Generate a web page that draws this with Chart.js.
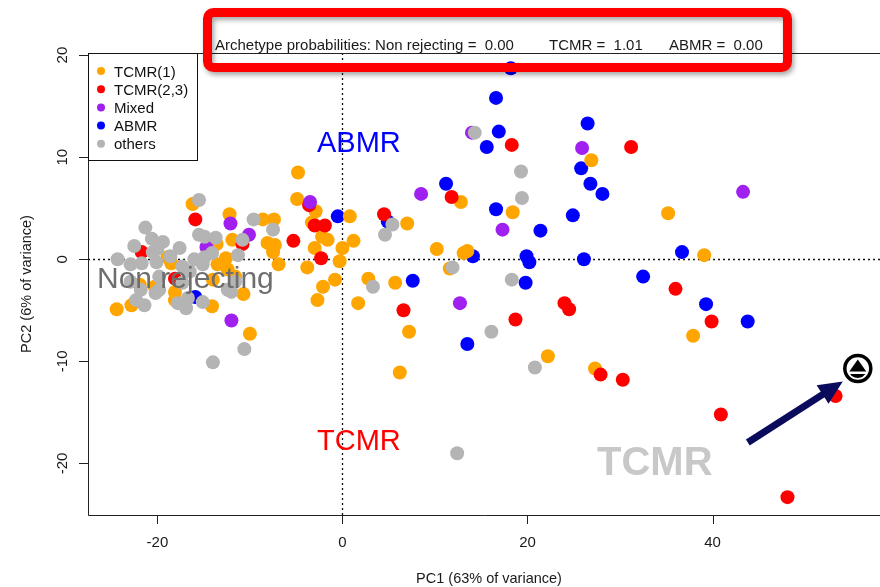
<!DOCTYPE html>
<html lang="en">
<head>
<meta charset="UTF-8">
<title>Archetype PCA</title>
<style>
  body { margin: 0; background: #fff; }
  #wrap { width: 880px; height: 587px; }
</style>
<script src="https://cdn.jsdelivr.net/npm/chart.js"></script>
</head>
<body>
<div id="wrap"><canvas id="pca" width="880" height="587"></canvas></div>
<script>
// axis setup
const xTicks = [-20, 0, 20, 40];
const yTicks = [-20, -10, 0, 10, 20];
const xRange = [-27.5, 58.1];
const yRange = [-25.05, 20.2];

// biopsies in PC space, by group
const tcmr1 = [[26.9,9.7],[12.8,5.6],[18.4,4.6],[35.2,4.5],[39.1,0.4],[13.1,0.6],[13.5,0.8],[10.2,1.0],[11.6,-0.9],[22.2,-9.5],
  [27.3,-10.7],[37.9,-7.5],[7.0,3.5],[2.8,-1.9],[5.7,-2.3],[1.7,-4.3],[7.2,-7.1],[6.2,-11.1],[0.8,4.2],[1.2,1.8],
  [0.0,1.1],[-0.3,-0.2],[-4.8,8.5],[-4.9,5.9],[-2.9,4.7],[-3.3,3.6],[-2.2,2.2],[-1.6,1.9],[-3.0,1.1],[-3.8,-0.8],
  [-2.1,-2.7],[-0.8,-2.0],[-6.9,-0.5],[-7.4,3.9],[-8.6,3.9],[-8.1,1.6],[-7.3,1.4],[-7.5,0.7],[-11.9,1.9],[-12.2,4.4],
  [-16.2,5.4],[-13.6,1.5],[-12.6,0.1],[-18.9,0.2],[-18.5,-0.4],[-10.7,-3.4],[-2.7,-4.0],[-24.4,-4.9],[-22.8,-4.5],[-18.1,-4.0],
  [-14.1,-4.6],[-10.0,-7.3],[-21.9,-2.5],[-20.3,-2.7],[-18.1,-3.2],[-14.0,-2.0],[-13.5,-0.5],[-12.4,-1.0],[-11.6,-1.7]];
const tcmr23 = [[18.3,11.2],[31.2,11.0],[11.8,6.1],[36.0,-2.9],[24.0,-4.3],[24.5,-4.9],[18.7,-5.9],[27.9,-11.3],[30.3,-11.8],[39.9,-6.1],
  [40.9,-15.2],[48.1,-23.3],[53.3,-13.4],[6.6,-5.0],[4.5,4.4],[-3.6,5.3],[-3.0,3.3],[-1.9,3.3],[-5.3,1.8],[-2.3,0.1],
  [-15.9,3.9],[-21.7,0.7],[-10.8,1.5],[-18.1,-1.9]];
const mixed = [[14.0,12.4],[25.9,10.9],[43.3,6.6],[17.3,2.9],[12.7,-4.3],[8.5,6.4],[-3.5,5.6],[-12.1,3.5],[-10.1,2.4],[-14.7,1.2],[-12.0,-6.0]];
const abmr = [[18.2,18.7],[16.6,15.8],[16.9,12.5],[15.6,11.0],[26.5,13.3],[25.8,8.9],[26.8,7.4],[28.1,6.4],[11.2,7.4],[16.6,4.9],
  [24.9,4.3],[21.4,2.8],[19.9,0.3],[20.2,-0.3],[14.1,0.3],[26.1,0.0],[19.8,-2.3],[36.7,0.7],[32.5,-1.7],[39.3,-4.4],
  [43.8,-6.1],[13.5,-8.3],[7.6,-2.1],[4.9,3.7],[-0.5,4.2],[-15.9,-3.7]];
const others = [[14.3,12.4],[19.3,8.6],[19.4,6.0],[11.9,-0.8],[18.3,-2.0],[16.1,-7.1],[20.8,-10.6],[12.4,-19.0],[5.4,3.4],[4.6,2.4],
  [3.3,-2.7],[-15.5,5.8],[-21.3,3.1],[-20.6,2.0],[-19.4,1.7],[-22.5,1.3],[-17.6,1.1],[-15.5,2.4],[-14.9,2.2],[-13.7,2.1],
  [-10.8,1.9],[-9.6,3.9],[-7.5,2.9],[-11.3,0.4],[-14.1,0.6],[-20.1,-0.3],[-21.7,-0.4],[-24.3,0.0],[-20.0,1.0],[-20.5,0.7],
  [-18.6,0.3],[-16.0,0.0],[-14.9,0.2],[-15.1,-0.5],[-17.3,-0.7],[-16.5,-1.2],[-22.9,-2.2],[-21.8,-3.0],[-19.8,-3.0],[-17.3,-2.3],
  [-19.8,-1.7],[-16.7,-3.8],[-15.1,-4.2],[-12.4,-3.0],[-11.6,-2.2],[-22.3,-4.0],[-21.4,-4.5],[-17.8,-4.3],[-16.9,-4.8],[-20.2,-3.3],
  [-10.6,-8.8],[-14.0,-10.1],[-12.0,-3.2],[-22.9,-0.5]];

// the new biopsy being classified
const target = [55.7, -10.7];

const groupNames = ['TCMR(1)', 'TCMR(2,3)', 'Mixed', 'ABMR', 'others'];
const groupColors = ['#FFA500', '#FF0000', '#A020F0', '#0000FF', '#B4B4B4'];
const groupData = [tcmr1, tcmr23, mixed, abmr, others];
const drawOrder = [3, 2, 1, 4, 0]; // higher = further back

const FONT = '"Liberation Sans", Arial, sans-serif';

const annotate = {
  id: 'annotate',
  beforeDatasetsDraw(chart) {
    const { ctx, chartArea: a, scales: { x, y } } = chart;
    const x0 = Math.round(x.getPixelForValue(0)) + 0.5;
    const y0 = Math.round(y.getPixelForValue(0)) + 0.5;
    ctx.save();
    ctx.strokeStyle = '#111';
    ctx.lineWidth = 1.3;
    ctx.setLineDash([2, 3]);
    ctx.beginPath();
    ctx.moveTo(x0, a.top); ctx.lineTo(x0, a.bottom);
    ctx.moveTo(a.left, y0); ctx.lineTo(a.right, y0);
    ctx.stroke();
    ctx.restore();
  },
  afterDatasetsDraw(chart) {
    const { ctx, chartArea: a, scales: { x, y } } = chart;
    ctx.save();

    // box + ticks
    ctx.strokeStyle = '#222';
    ctx.lineWidth = 1;
    ctx.beginPath();
    ctx.moveTo(a.right + 1, a.top + 0.5); ctx.lineTo(a.left + 0.5, a.top + 0.5);
    ctx.lineTo(a.left + 0.5, a.bottom + 0.5); ctx.lineTo(a.right + 1, a.bottom + 0.5);
    xTicks.forEach(v => {
      const px = Math.round(x.getPixelForValue(v)) + 0.5;
      ctx.moveTo(px, a.bottom); ctx.lineTo(px, a.bottom + 9);
    });
    yTicks.forEach(v => {
      const py = Math.round(y.getPixelForValue(v)) + 0.5;
      ctx.moveTo(a.left, py); ctx.lineTo(a.left - 9, py);
    });
    ctx.stroke();

    // tick labels
    ctx.fillStyle = '#1a1a1a';
    ctx.font = '15px ' + FONT;
    ctx.textAlign = 'center';
    ctx.textBaseline = 'alphabetic';
    xTicks.forEach(v => ctx.fillText(String(v), x.getPixelForValue(v), 547));
    yTicks.forEach(v => {
      ctx.save();
      ctx.translate(67, y.getPixelForValue(v));
      ctx.rotate(-Math.PI / 2);
      ctx.fillText(String(v), 0, 0);
      ctx.restore();
    });

    // axis titles
    ctx.font = '14.5px ' + FONT;
    ctx.fillText('PC1 (63% of variance)', 489, 583);
    ctx.save();
    ctx.translate(31, (a.top + a.bottom) / 2);
    ctx.rotate(-Math.PI / 2);
    ctx.fillText('PC2 (6% of variance)', 0, 0);
    ctx.restore();

    // legend
    ctx.strokeStyle = '#111';
    ctx.strokeRect(a.left + 0.5, a.top + 0.5, 109, 107);
    ctx.font = '15px ' + FONT;
    ctx.textAlign = 'left';
    groupNames.forEach((name, i) => {
      const cy = 71 + i * 18.2;
      ctx.fillStyle = groupColors[i];
      ctx.beginPath();
      ctx.arc(101, cy, 4, 0, Math.PI * 2);
      ctx.fill();
      ctx.fillStyle = '#111';
      ctx.fillText(name, 114, cy + 5.5);
    });

    // archetype labels
    ctx.font = '29px ' + FONT;
    ctx.fillStyle = '#0000FF';
    ctx.fillText('ABMR', 317, 152);
    ctx.fillStyle = '#FF0000';
    ctx.fillText('TCMR', 317, 450);
    ctx.font = '30px ' + FONT;
    ctx.fillStyle = '#6E6E6E';
    ctx.fillText('Non rejecting', 97, 288);
    ctx.font = 'bold 40px ' + FONT;
    ctx.fillStyle = '#C8C8C8';
    ctx.fillText('TCMR', 597, 475);

    // probability banner
    ctx.fillStyle = '#1a1a1a';
    ctx.font = '15px ' + FONT;
    ctx.fillText('Archetype probabilities: Non rejecting =  0.00', 215, 50);
    ctx.fillText('TCMR =  1.01', 549, 50);
    ctx.fillText('ABMR =  0.00', 669, 50);
    ctx.save();
    ctx.shadowColor = 'rgba(0,0,0,0.35)';
    ctx.shadowBlur = 5;
    ctx.shadowOffsetX = 2;
    ctx.shadowOffsetY = 3;
    ctx.strokeStyle = '#FF0000';
    ctx.lineWidth = 9;
    ctx.beginPath();
    ctx.roundRect(207.5, 12.5, 580, 55, 6);
    ctx.stroke();
    ctx.restore();

    // arrow to the new biopsy
    const tx = x.getPixelForValue(target[0]);
    const ty = y.getPixelForValue(target[1]);
    const tipX = tx - 15, tipY = ty + 13;
    const tailX = tipX - 95, tailY = tipY + 61;
    const ang = Math.atan2(tipY - tailY, tipX - tailX);
    const headLen = 24, headW = 11;
    const bx = tipX - headLen * Math.cos(ang), by = tipY - headLen * Math.sin(ang);
    ctx.strokeStyle = '#0b0b5e';
    ctx.fillStyle = '#0b0b5e';
    ctx.lineWidth = 7;
    ctx.beginPath();
    ctx.moveTo(tailX, tailY); ctx.lineTo(bx + 3 * Math.cos(ang), by + 3 * Math.sin(ang));
    ctx.stroke();
    ctx.beginPath();
    ctx.moveTo(tipX, tipY);
    ctx.lineTo(bx + headW * Math.sin(ang), by - headW * Math.cos(ang));
    ctx.lineTo(bx - headW * Math.sin(ang), by + headW * Math.cos(ang));
    ctx.closePath();
    ctx.fill();

    // target symbol
    ctx.fillStyle = '#fff';
    ctx.strokeStyle = '#000';
    ctx.lineWidth = 3.5;
    ctx.beginPath();
    ctx.arc(tx, ty, 13, 0, Math.PI * 2);
    ctx.fill();
    ctx.stroke();
    ctx.fillStyle = '#000';
    ctx.beginPath();
    ctx.moveTo(tx, ty - 9);
    ctx.lineTo(tx - 8.5, ty + 3);
    ctx.lineTo(tx + 8.5, ty + 3);
    ctx.closePath();
    ctx.fill();
    ctx.beginPath();
    ctx.arc(tx, ty, 9.5, Math.PI * 0.2, Math.PI * 0.8);
    ctx.closePath();
    ctx.fill();

    ctx.restore();
  }
};

const datasets = groupData.map((pts, i) => ({
  label: groupNames[i],
  data: pts.map(p => ({ x: p[0], y: p[1] })),
  backgroundColor: groupColors[i],
  borderWidth: 0,
  pointRadius: 7,
  pointHoverRadius: 7,
  order: drawOrder[i]
}));

new Chart(document.getElementById('pca'), {
  type: 'scatter',
  data: { datasets },
  options: {
    responsive: false,
    animation: false,
    devicePixelRatio: 1,
    layout: { autoPadding: false, padding: { top: 53, right: 0, left: 0, bottom: 0 } },
    plugins: { legend: { display: false }, tooltip: { enabled: false } },
    scales: {
      x: {
        type: 'linear', min: xRange[0], max: xRange[1],
        grid: { display: false }, border: { display: false },
        ticks: { display: false },
        afterFit: s => { s.height = 72; }
      },
      y: {
        type: 'linear', min: yRange[0], max: yRange[1],
        grid: { display: false }, border: { display: false },
        ticks: { display: false },
        afterFit: s => { s.width = 88; }
      }
    }
  },
  plugins: [annotate]
});
</script>
</body>
</html>
